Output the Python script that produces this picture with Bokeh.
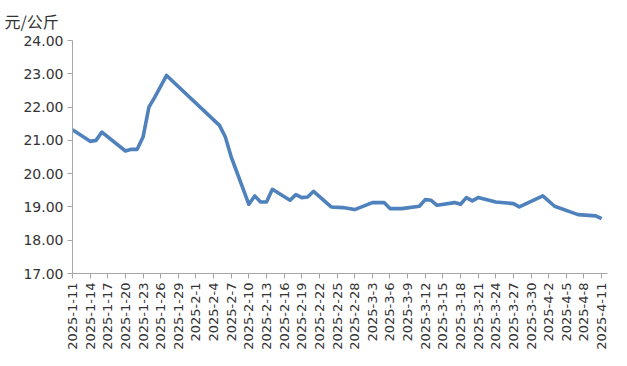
import math
from datetime import date
from bokeh.plotting import figure
from bokeh.models import Range1d, FixedTicker, NumeralTickFormatter, Title
from bokeh.embed import file_html
from bokeh.resources import INLINE

# data
dates = ["2025-1-11", "2025-1-14", "2025-1-15", "2025-1-16", "2025-1-20", "2025-1-21",
         "2025-1-22", "2025-1-23", "2025-1-24", "2025-1-25", "2025-1-27", "2025-2-5",
         "2025-2-6", "2025-2-7", "2025-2-10", "2025-2-11", "2025-2-12", "2025-2-13",
         "2025-2-14", "2025-2-17", "2025-2-18", "2025-2-19", "2025-2-20", "2025-2-21",
         "2025-2-24", "2025-2-26", "2025-2-28", "2025-3-3", "2025-3-5", "2025-3-6",
         "2025-3-8", "2025-3-11", "2025-3-12", "2025-3-13", "2025-3-14", "2025-3-17",
         "2025-3-18", "2025-3-19", "2025-3-20", "2025-3-21", "2025-3-24", "2025-3-27",
         "2025-3-28", "2025-4-1", "2025-4-3", "2025-4-7", "2025-4-10", "2025-4-11"]
prices = [21.32, 20.97, 21.00, 21.25, 20.68, 20.73,
          20.73, 21.10, 22.00, 22.30, 22.95, 21.45,
          21.10, 20.50, 19.08, 19.33, 19.15, 19.15,
          19.53, 19.20, 19.37, 19.28, 19.30, 19.47,
          19.00, 18.98, 18.92, 19.13, 19.13, 18.95,
          18.95, 19.02, 19.22, 19.20, 19.05, 19.13,
          19.08, 19.28, 19.18, 19.28, 19.15, 19.10,
          19.00, 19.33, 19.02, 18.77, 18.73, 18.65]
tick_labels = ["2025-1-11", "2025-1-14", "2025-1-17", "2025-1-20", "2025-1-23", "2025-1-26",
               "2025-1-29", "2025-2-1", "2025-2-4", "2025-2-7", "2025-2-10", "2025-2-13",
               "2025-2-16", "2025-2-19", "2025-2-22", "2025-2-25", "2025-2-28", "2025-3-3",
               "2025-3-6", "2025-3-9", "2025-3-12", "2025-3-15", "2025-3-18", "2025-3-21",
               "2025-3-24", "2025-3-27", "2025-3-30", "2025-4-2", "2025-4-5", "2025-4-8",
               "2025-4-11"]
y_ticks = [17, 18, 19, 20, 21, 22, 23, 24]
unit = "元/公斤"

def day_index(s):
    y, m, d = (int(t) for t in s.split("-"))
    return (date(y, m, d) - date(2025, 1, 11)).days

xs = [day_index(s) for s in dates]
tick_pos = [day_index(s) for s in tick_labels]

text_col = "#333333"
axis_col = "#A6A6A6"

p = figure(width=627, height=366, output_backend="svg", toolbar_location=None,
           min_border_left=72, min_border_right=20, min_border_top=40, min_border_bottom=93,
           x_range=Range1d(0, 91), y_range=Range1d(17, 24),
           title=Title(text=unit, align="left", offset=-68, standoff=12,
                       vertical_align="top",
                       text_font="Noto Sans CJK SC", text_font_size="16px",
                       text_font_style="normal", text_color=text_col))
p.outline_line_color = None
p.xgrid.visible = False
p.ygrid.visible = False
p.background_fill_color = "white"
p.border_fill_color = "white"

p.line(xs, prices, line_color="#4F81BD", line_width=3.6, line_join="round")

p.yaxis.ticker = FixedTicker(ticks=y_ticks)
p.yaxis.formatter = NumeralTickFormatter(format="0.00")
p.yaxis.major_label_text_font = "DejaVu Sans"
p.yaxis.major_label_text_font_size = "14px"
p.yaxis.major_label_text_color = text_col
p.yaxis.major_label_standoff = 4
p.yaxis.axis_line_color = axis_col
p.yaxis.major_tick_line_color = axis_col
p.yaxis.major_tick_out = 5
p.yaxis.major_tick_in = 0
p.yaxis.minor_tick_line_color = None

p.xaxis.ticker = FixedTicker(ticks=tick_pos)
p.xaxis.major_label_overrides = {pos: lab for pos, lab in zip(tick_pos, tick_labels)}
p.xaxis.major_label_orientation = math.pi / 2
p.xaxis.major_label_text_font = "DejaVu Sans"
p.xaxis.major_label_text_font_size = "13px"
p.xaxis.major_label_text_color = text_col
p.xaxis.major_label_standoff = 4
p.xaxis.axis_line_color = axis_col
p.xaxis.major_tick_line_color = axis_col
p.xaxis.major_tick_out = 5
p.xaxis.major_tick_in = 0
p.xaxis.minor_tick_line_color = None

open("out.html", "w").write(file_html(p, INLINE))
